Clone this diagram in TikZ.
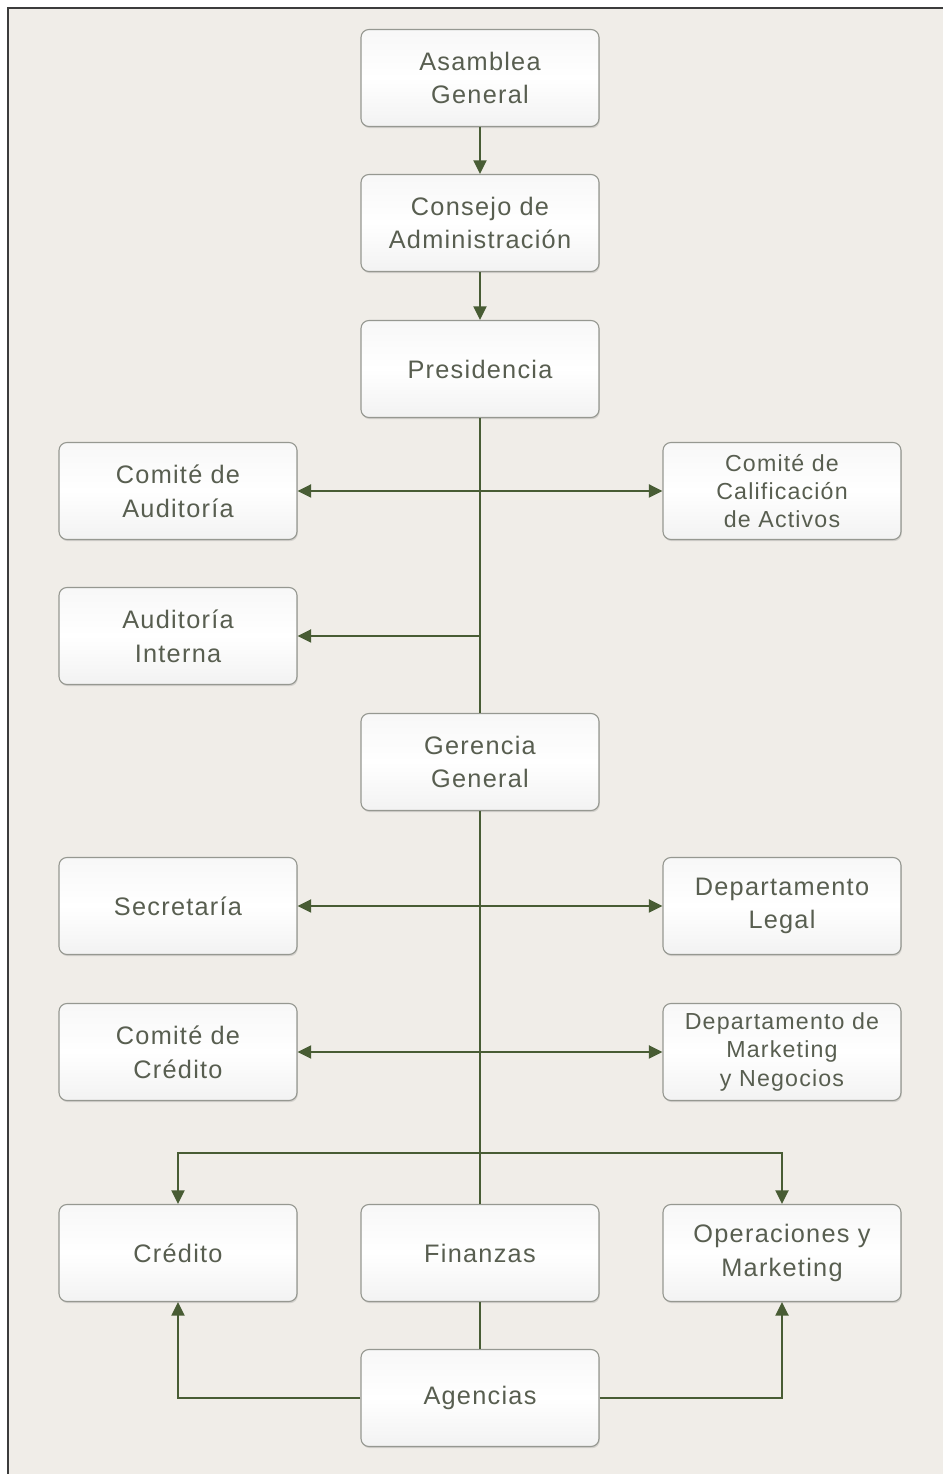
\documentclass[tikz,border=0pt]{standalone}
\usepackage{fontspec}
\setmainfont{Liberation Sans}[LetterSpace=5]
\usetikzlibrary{arrows.meta,shadows}
\definecolor{fondo}{RGB}{240,237,232}
\definecolor{marco}{RGB}{60,60,60}
\definecolor{linea}{RGB}{72,92,52}
\definecolor{texto}{RGB}{88,94,80}
\definecolor{borde}{RGB}{150,152,145}
\tikzset{
  caja/.style={draw=borde,line width=0.8pt,rounded corners=0.2cm,
    top color=gray!6,bottom color=gray!10,middle color=white,
    drop shadow={opacity=0.25,shadow xshift=0.6pt,shadow yshift=-1.2pt},
    minimum width=5.95cm,minimum height=2.425cm,inner sep=0pt,align=center,
    text=texto,font=\fontsize{18}{24}\selectfont},
  cajap/.style={caja,font=\fontsize{16.5}{20}\selectfont},
  conector/.style={draw=linea,line width=1.2pt}
}

\begin{document}
\begin{tikzpicture}[x=1cm,y=1cm,>={Triangle[length=3.4mm,width=3.3mm]}]
  \def\colL{4.45}\def\colM{12.0}\def\colR{19.55}
  \useasboundingbox (0,0) rectangle (23.575,36.85);
  \fill[white] (0,0) rectangle (23.575,36.85);
  \fill[fondo] (0.21,0) rectangle (23.575,36.66);
  \draw[marco,line width=1.4pt] (0.21,0) -- (0.21,36.66) -- (23.575,36.66);
  \foreach \nm/\xx/\yy/\st/\txt in {
    asam/\colM/34.9/caja/{Asamblea\\General},
    cons/\colM/31.275/caja/{Consejo de\\Administración},
    pres/\colM/27.625/caja/Presidencia,
    caud/\colL/24.575/caja/{Comité de\\Auditoría},
    ccal/\colR/24.575/cajap/{Comité de\\Calificación\\de Activos},
    aint/\colL/20.95/caja/{Auditoría\\Interna},
    gger/\colM/17.8/caja/{Gerencia\\General},
    secr/\colL/14.2/caja/Secretaría,
    dleg/\colR/14.2/caja/{Departamento\\Legal},
    ccre/\colL/10.55/caja/{Comité de\\Crédito},
    dmkt/\colR/10.55/cajap/{Departamento de\\Marketing\\y Negocios},
    cred/\colL/5.525/caja/Crédito,
    fina/\colM/5.525/caja/Finanzas,
    oper/\colR/5.525/caja/{Operaciones y\\Marketing},
    agen/\colM/1.9/caja/Agencias}
    \node[\st] (\nm) at (\xx,\yy) {\txt};
  \draw[conector,->] (asam) -- (cons);
  \draw[conector,->] (cons) -- (pres);
  \draw[conector] (pres) -- (gger);
  \draw[conector,<->] (caud) -- (ccal);
  \coordinate (ramaint) at (pres.south |- aint.east);
  \draw[conector,->] (ramaint) -- (aint);
  \draw[conector] (gger) -- (fina);
  \draw[conector,<->] (secr) -- (dleg);
  \draw[conector,<->] (ccre) -- (dmkt);
  \coordinate (bus) at (\colM,8.025);
  \draw[conector,<->] (cred.north) |- (bus) -| (oper.north);
  \draw[conector] (fina) -- (agen);
  \draw[conector,->] (agen.west) -| (cred.south);
  \draw[conector,->] (agen.east) -| (oper.south);
\end{tikzpicture}
\end{document}
